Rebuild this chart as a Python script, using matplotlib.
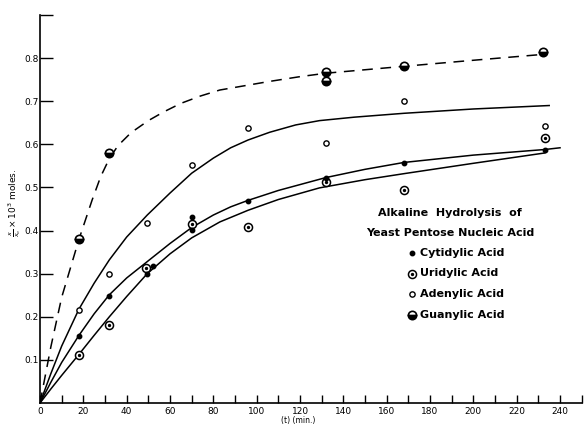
import numpy as np
import matplotlib.pyplot as plt

# measured points (time in min, x/xo x 10^3 moles)
t_cyt = [18, 32, 49.5, 52, 70, 70, 96, 132, 168, 233]
v_cyt = [0.155, 0.249, 0.299, 0.318, 0.432, 0.401, 0.469, 0.523, 0.556, 0.588]
t_uri = [18, 32, 49, 70, 96, 132, 168, 233]
v_uri = [0.112, 0.180, 0.313, 0.415, 0.409, 0.513, 0.494, 0.615]
t_ade = [18, 32, 49.5, 70, 96, 132, 168, 233]
v_ade = [0.216, 0.299, 0.418, 0.551, 0.638, 0.603, 0.700, 0.643]
t_gua = [18, 32, 132, 132, 168, 232]
v_gua = [0.380, 0.580, 0.767, 0.746, 0.781, 0.815]

# hand-drawn curves
ct_gua = [0, 5, 10, 18, 24, 28, 32, 36, 42, 50, 57, 65, 74, 83, 106, 120, 132, 150, 168, 200, 233]
cv_gua = [0, 0.13, 0.245, 0.38, 0.47, 0.525, 0.567, 0.597, 0.627, 0.655, 0.675,
          0.695, 0.712, 0.726, 0.746, 0.757, 0.765, 0.773, 0.781, 0.795, 0.809]
ct_ade = [0, 5, 10, 18, 25, 32, 40, 49.5, 60, 70, 80, 88, 96, 106, 118, 129, 145, 168, 200, 235]
cv_ade = [0, 0.068, 0.132, 0.218, 0.278, 0.332, 0.385, 0.436, 0.487, 0.533, 0.568, 0.592,
          0.61, 0.628, 0.645, 0.655, 0.663, 0.672, 0.682, 0.69]
ct_cyt = [0, 5, 10, 18, 25, 32, 40, 49.5, 60, 70, 80, 88, 96, 110, 132, 150, 168, 200, 233, 240]
cv_cyt = [0, 0.048, 0.094, 0.157, 0.207, 0.251, 0.29, 0.328, 0.37, 0.407, 0.436, 0.455,
          0.47, 0.493, 0.523, 0.542, 0.558, 0.575, 0.588, 0.592]
ct_uri = [0, 5, 10, 18, 25, 32, 40, 49.5, 60, 70, 83, 96, 110, 129, 150, 168, 200, 233]
cv_uri = [0, 0.0325, 0.064, 0.113, 0.157, 0.2, 0.247, 0.3, 0.346, 0.383, 0.42, 0.447,
          0.472, 0.499, 0.518, 0.532, 0.556, 0.58]

x_ticks = np.arange(0, 251, 10)
y_ticks = np.arange(1, 10) / 10

W, H = 584, 425
fig = plt.figure(figsize=(W / 100, H / 100), dpi=100)
ax = fig.add_axes([40 / W, 1 - 403 / H, 541.7 / W, 388 / H])

# curves
ax.plot(ct_gua, cv_gua, color='black', lw=1.1, dashes=(7, 5))
ax.plot(ct_ade, cv_ade, color='black', lw=1.1)
ax.plot(ct_cyt, cv_cyt, color='black', lw=1.1)
ax.plot(ct_uri, cv_uri, color='black', lw=1.1)

# marker styles
sty_cyt = dict(marker='o', ms=3.2, color='black', ls='none')
sty_uri = dict(marker='o', ms=5.8, mfc='white', mec='black', mew=1.1, ls='none')
sty_uri_dot = dict(marker='o', ms=1.4, color='black', ls='none')
sty_ade = dict(marker='o', ms=3.8, mfc='white', mec='black', mew=1.0, ls='none')
sty_gua = dict(marker='o', ms=6, fillstyle='bottom', mfc='black', mfcalt='white',
               mec='black', mew=1.2, ls='none')

ax.plot(t_ade, v_ade, **sty_ade)
ax.plot(t_uri, v_uri, **sty_uri)
ax.plot(t_uri, v_uri, **sty_uri_dot)
ax.plot(t_cyt, v_cyt, **sty_cyt)
ax.plot(t_gua, v_gua, **sty_gua)

ax.set_xlim(0, 250)
ax.set_ylim(0, 0.9)
for s in ['top', 'right']:
    ax.spines[s].set_visible(False)
ax.spines['left'].set_linewidth(1.2)
ax.spines['bottom'].set_linewidth(1.2)

ax.set_xticks(x_ticks)
ax.set_xticklabels([str(t) if t % 20 == 0 and t <= 240 else '' for t in x_ticks])
ax.set_yticks(y_ticks)
ax.set_yticklabels(['%.1f' % v if v < 0.85 else '' for v in y_ticks])
ax.tick_params(axis='x', direction='in', length=6, width=1, labelsize=6.5, pad=3)
ax.tick_params(axis='y', direction='in', length=9, width=1, labelsize=6.5, pad=1)

fig.text(15 / W, 1 - 203 / H, r'$\frac{x}{x_o}\times10^3$ moles.', rotation=90,
         ha='center', va='center', fontsize=6.5)
fig.text(298 / W, 1 - 420 / H, '(t) (min.)', ha='center', va='center', fontsize=5.5)

# legend block
bold = dict(fontsize=8, fontweight='bold', va='center')
fig.text(450 / W, 1 - 213 / H, 'Alkaline  Hydrolysis  of', ha='center', **bold)
fig.text(450 / W, 1 - 233 / H, 'Yeast Pentose Nucleic Acid', ha='center', **bold)
items = [('Cytidylic Acid', [sty_cyt]),
         ('Uridylic Acid', [sty_uri, sty_uri_dot]),
         ('Adenylic Acid', [sty_ade]),
         ('Guanylic Acid', [sty_gua])]
for i, (name, stys) in enumerate(items):
    yy = 1 - (253 + 20.5 * i) / H
    for st in stys:
        ax.plot([412 / W], [yy], transform=fig.transFigure, clip_on=False, **st)
    fig.text(420 / W, yy, name, ha='left', **bold)

fig.savefig('out.png', dpi=100)
